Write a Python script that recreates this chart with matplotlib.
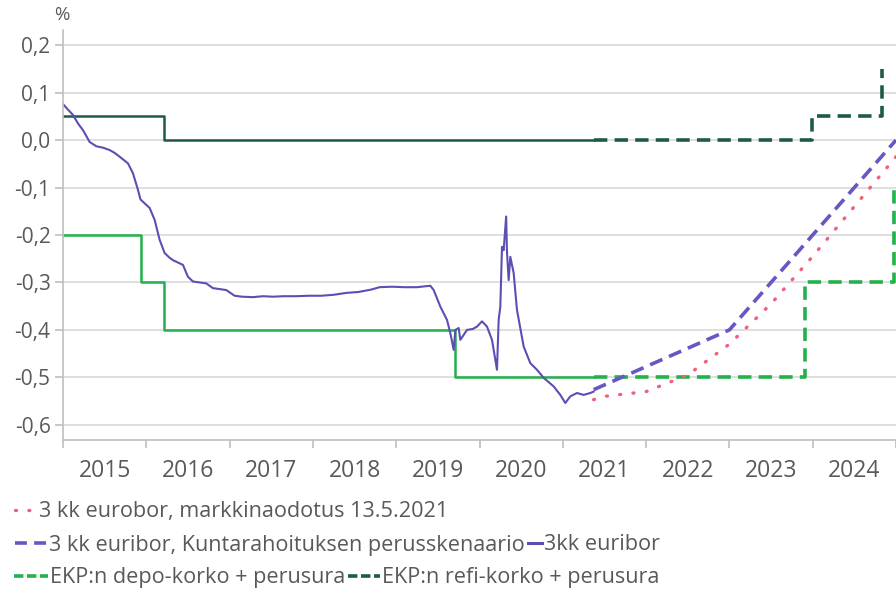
import matplotlib.pyplot as plt
from matplotlib.lines import Line2D
from matplotlib.ticker import FuncFormatter, FixedLocator

plt.rcParams['font.family'] = ['Open Sans', 'DejaVu Sans']

# 3kk euribor, history (decimal year, %)
euribor_t = [2015.00, 2015.04, 2015.12, 2015.18, 2015.24, 2015.32, 2015.40, 2015.48, 2015.56, 2015.62,
             2015.68, 2015.78, 2015.84, 2015.90, 2015.93, 2015.96, 2016.04, 2016.10, 2016.16, 2016.22,
             2016.28, 2016.32, 2016.38, 2016.44, 2016.50, 2016.56, 2016.64, 2016.72, 2016.80, 2016.88,
             2016.96, 2017.06, 2017.15, 2017.28, 2017.40, 2017.52, 2017.65, 2017.80, 2017.95, 2018.10,
             2018.25, 2018.40, 2018.55, 2018.70, 2018.80, 2018.95, 2019.10, 2019.25, 2019.35, 2019.41,
             2019.45, 2019.53, 2019.61, 2019.65, 2019.69, 2019.71, 2019.75, 2019.77, 2019.85, 2019.92,
             2019.97, 2020.03, 2020.09, 2020.15, 2020.19, 2020.21, 2020.23, 2020.25, 2020.27, 2020.29,
             2020.32, 2020.33, 2020.35, 2020.37, 2020.41, 2020.45, 2020.53, 2020.61, 2020.69, 2020.77,
             2020.83, 2020.89, 2020.97, 2021.03, 2021.09, 2021.17, 2021.25, 2021.33, 2021.37]
euribor_v = [0.076, 0.068, 0.053, 0.035, 0.021, -0.004, -0.013, -0.016, -0.021, -0.027,
             -0.035, -0.049, -0.070, -0.105, -0.125, -0.130, -0.143, -0.168, -0.210, -0.238,
             -0.248, -0.253, -0.258, -0.263, -0.288, -0.298, -0.300, -0.302, -0.312, -0.314,
             -0.316, -0.328, -0.330, -0.331, -0.329, -0.330, -0.329, -0.329, -0.328, -0.328,
             -0.326, -0.322, -0.320, -0.315, -0.310, -0.309, -0.310, -0.310, -0.308, -0.307,
             -0.316, -0.351, -0.379, -0.407, -0.442, -0.400, -0.396, -0.421, -0.400, -0.398,
             -0.393, -0.382, -0.393, -0.421, -0.463, -0.484, -0.379, -0.351, -0.225, -0.232,
             -0.161, -0.236, -0.295, -0.246, -0.280, -0.358, -0.435, -0.470, -0.484, -0.501,
             -0.510, -0.519, -0.537, -0.554, -0.540, -0.533, -0.537, -0.533, -0.530]

# Kuntarahoitus base scenario
scen_t = [2021.37, 2023.0, 2025.0]
scen_v = [-0.526, -0.40, 0.0]

# market expectation 13.5.2021
market_t = [2021.37, 2021.5, 2022.0, 2022.5, 2023.0, 2023.5, 2024.0, 2024.5, 2025.0]
market_v = [-0.547, -0.54, -0.53, -0.495, -0.43, -0.345, -0.245, -0.14, -0.035]

# ECB deposit rate
depo_t = [2015.0, 2015.94, 2016.21, 2019.71, 2021.37]
depo_v = [-0.2, -0.3, -0.4, -0.5, -0.5]
depo_f_t = [2021.37, 2023.91, 2024.97]
depo_f_v = [-0.5, -0.3, -0.1]

# ECB refi rate
refi_t = [2015.0, 2016.21, 2021.37]
refi_v = [0.05, 0.0, 0.0]
refi_f_t = [2021.37, 2023.99, 2024.83]
refi_f_v = [0.0, 0.05, 0.15]

years = list(range(2015, 2025))

c_text = '#595959'
c_pink = '#f0607e'
c_purple = '#5a4fb3'
c_purple2 = '#6658c4'
c_green = '#22b14c'
c_dark = '#1d5a47'

fig = plt.figure(figsize=(8.96, 5.96), dpi=100)
ax = fig.add_axes([63 / 896, 1 - 440 / 596, 1 - 63 / 896, 410 / 596])

ax.plot(depo_t, depo_v, color=c_green, lw=1.8, drawstyle='steps-post')
ax.plot(depo_f_t, depo_f_v, color=c_green, lw=2.6, dashes=(3.7, 2.0), drawstyle='steps-post')
ax.plot(refi_t, refi_v, color=c_dark, lw=1.8, drawstyle='steps-post')
ax.plot(refi_f_t, refi_f_v, color=c_dark, lw=2.6, dashes=(3.7, 2.0), drawstyle='steps-post')
ax.plot(euribor_t, euribor_v, color=c_purple, lw=1.5)
ax.plot(scen_t, scen_v, color=c_purple2, lw=2.6, dashes=(3.7, 2.0))
ax.plot(market_t, market_v, color=c_pink, lw=2.4, dashes=(0.3, 3.7), dash_capstyle='round')

ax.set_xlim(2015, 2025)
ax.set_ylim(-0.632, 0.232)
ax.set_yticks([0.2, 0.1, 0.0, -0.1, -0.2, -0.3, -0.4, -0.5, -0.6])
ax.yaxis.set_major_formatter(FuncFormatter(lambda v, p: ('%.1f' % v).replace('.', ',').replace('-0,0', '0,0')))
ax.grid(axis='y', color='#d9d9d9', lw=1.2)
ax.set_axisbelow(True)

ax.xaxis.set_major_locator(FixedLocator(years + [2025]))
ax.xaxis.set_minor_locator(FixedLocator([y + 0.5 for y in years]))
ax.set_xticklabels([], minor=False)
ax.set_xticklabels([str(y) for y in years], minor=True)
ax.tick_params(axis='x', which='major', length=6, color='#bfbfbf', width=1.2)
ax.tick_params(axis='x', which='minor', length=0, pad=14, labelsize=16.5, labelcolor=c_text)
ax.tick_params(axis='y', length=6, color='#bfbfbf', width=1.2, labelsize=15, labelcolor=c_text, pad=3)

for s in ['top', 'right']:
    ax.spines[s].set_visible(False)
for s in ['left', 'bottom']:
    ax.spines[s].set_color('#bfbfbf')
    ax.spines[s].set_linewidth(1.2)

fig.text(62 / 896, 1 - 15 / 596, '%', ha='center', va='center', fontsize=13.5, color=c_text)

# legend rows; each entry: handle, label, handle length px. Entries in a row follow each other.
fs = 15.6
em = fs * 100 / 72
rows = [
    (15, 512, [(Line2D([], [], color=c_pink, lw=2.4, dashes=(0.3, 3.7), dash_capstyle='round'),
                '3 kk eurobor, markkinaodotus 13.5.2021', 22)]),
    (15, 545, [(Line2D([], [], color=c_purple2, lw=2.6, dashes=(3.3, 2.0)),
                '3 kk euribor, Kuntarahoituksen perusskenaario', 32),
               (Line2D([], [], color=c_purple, lw=2.2), '3kk euribor', 14)]),
    (14, 578, [(Line2D([], [], color=c_green, lw=2.6, dashes=(2.6, 1.0)),
                'EKP:n depo-korko + perusura', 34),
               (Line2D([], [], color=c_dark, lw=2.6, dashes=(2.6, 1.0)),
                'EKP:n refi-korko + perusura', 32)]),
]
renderer = fig.canvas.get_renderer()
for x0, yp, items in rows:
    x = x0
    for h, lab, hl in items:
        leg = fig.legend([h], [lab], loc='center left', bbox_to_anchor=(x / 896, 1 - yp / 596),
                         frameon=False, fontsize=fs, handlelength=hl / em,
                         handletextpad=2 / em, borderpad=0, borderaxespad=0)
        for t in leg.get_texts():
            t.set_color(c_text)
        x = leg.get_window_extent(renderer).x1 + 3

fig.savefig('out.png', dpi=100)
